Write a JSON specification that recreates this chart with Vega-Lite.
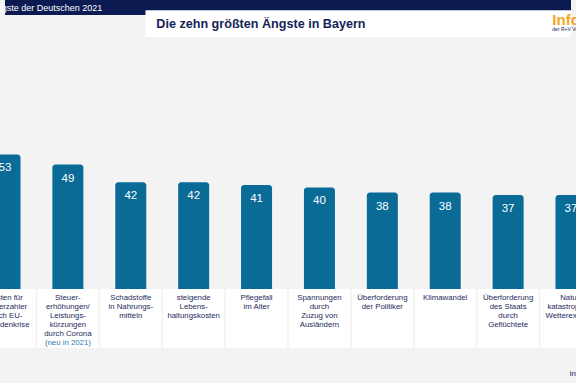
{
  "$schema": "https://vega.github.io/schema/vega-lite/v6.json",
  "width": 576,
  "height": 383,
  "autosize": {"type": "none"},
  "padding": 0,
  "background": "#f3f3f3",
  "config": {"view": {"stroke": null}, "font": "Liberation Sans"},
  "datasets": {
    "fears": [
      {"i": 1, "v": 53, "label": "Kosten für\nSteuerzahler\ndurch EU-\nSchuldenkrise", "note": null},
      {"i": 2, "v": 49, "label": "Steuer-\nerhöhungen/\nLeistungs-\nkürzungen\ndurch Corona", "note": "(neu in 2021)"},
      {"i": 3, "v": 42, "label": "Schadstoffe\nin Nahrungs-\nmitteln", "note": null},
      {"i": 4, "v": 42, "label": "steigende\nLebens-\nhaltungskosten", "note": null},
      {"i": 5, "v": 41, "label": "Pflegefall\nim Alter", "note": null},
      {"i": 6, "v": 40, "label": "Spannungen\ndurch\nZuzug von\nAusländern", "note": null},
      {"i": 7, "v": 38, "label": "Überforderung\nder Politiker", "note": null},
      {"i": 8, "v": 38, "label": "Klimawandel", "note": null},
      {"i": 9, "v": 37, "label": "Überforderung\ndes Staats\ndurch\nGeflüchtete", "note": null},
      {"i": 10, "v": 37, "label": "Natur-\nkatastrophen/\nWetterextreme", "note": null}
    ],
    "one": [{}]
  },
  "layer": [
    {
      "data": {"name": "one"},
      "mark": {"type": "rect", "color": "#0b1b52"},
      "encoding": {
        "x": {"datum": 1, "type": "quantitative", "scale": {"domain": [1, 10], "nice": false, "zero": false}, "axis": null},
        "x2": {"datum": 10},
        "y": {"datum": 113.8, "type": "quantitative", "scale": {"domain": [-37, 113.8], "nice": false, "zero": false}, "axis": null},
        "y2": {"datum": 107.9}
      }
    },
    {
      "data": {"name": "one"},
      "mark": {"type": "text", "text": "Die Ängste der Deutschen 2021", "align": "right", "baseline": "alphabetic", "fontSize": 9, "color": "#ffffff"},
      "encoding": {
        "x": {"datum": 2.547, "type": "quantitative", "scale": {"domain": [1, 10], "nice": false, "zero": false}, "axis": null},
        "y": {"datum": 109.4, "type": "quantitative", "scale": {"domain": [-37, 113.8], "nice": false, "zero": false}, "axis": null}
      }
    },
    {
      "data": {"name": "one"},
      "mark": {"type": "rect", "color": "#ffffff"},
      "encoding": {
        "x": {"datum": 3.234, "type": "quantitative", "scale": {"domain": [1, 10], "nice": false, "zero": false}, "axis": null},
        "x2": {"datum": 10},
        "y": {"datum": 109.8, "type": "quantitative", "scale": {"domain": [-37, 113.8], "nice": false, "zero": false}, "axis": null},
        "y2": {"datum": 99.2}
      }
    },
    {
      "data": {"name": "one"},
      "mark": {"type": "text", "text": "Die zehn größten Ängste in Bayern", "align": "left", "baseline": "alphabetic", "fontSize": 12.6, "fontWeight": "bold", "color": "#142358"},
      "encoding": {
        "x": {"datum": 3.406, "type": "quantitative", "scale": {"domain": [1, 10], "nice": false, "zero": false}, "axis": null},
        "y": {"datum": 102.6, "type": "quantitative", "scale": {"domain": [-37, 113.8], "nice": false, "zero": false}, "axis": null}
      }
    },
    {
      "data": {"name": "one"},
      "mark": {"type": "text", "text": "Infocenter", "align": "left", "baseline": "alphabetic", "fontSize": 15, "fontWeight": "bold", "color": "#f5a623"},
      "encoding": {
        "x": {"datum": 9.703, "type": "quantitative", "scale": {"domain": [1, 10], "nice": false, "zero": false}, "axis": null},
        "y": {"datum": 104.0, "type": "quantitative", "scale": {"domain": [-37, 113.8], "nice": false, "zero": false}, "axis": null}
      }
    },
    {
      "data": {"name": "one"},
      "mark": {"type": "text", "text": "der R+V Versicherung", "align": "left", "baseline": "alphabetic", "fontSize": 5, "color": "#142358"},
      "encoding": {
        "x": {"datum": 9.703, "type": "quantitative", "scale": {"domain": [1, 10], "nice": false, "zero": false}, "axis": null},
        "y": {"datum": 101.6, "type": "quantitative", "scale": {"domain": [-37, 113.8], "nice": false, "zero": false}, "axis": null}
      }
    },
    {
      "data": {"name": "fears"},
      "mark": {"type": "bar", "width": 61, "color": "#ffffff", "clip": true},
      "encoding": {
        "x": {"field": "i", "type": "quantitative", "scale": {"domain": [1, 10], "nice": false, "zero": false}, "axis": null},
        "y": {"datum": 0, "type": "quantitative", "scale": {"domain": [-37, 113.8], "nice": false, "zero": false}, "axis": null},
        "y2": {"datum": -23.2}
      }
    },
    {
      "data": {"name": "fears"},
      "mark": {"type": "bar", "width": 31, "color": "#0a6b97", "cornerRadiusTopLeft": 3, "cornerRadiusTopRight": 3, "clip": true},
      "encoding": {
        "x": {"field": "i", "type": "quantitative", "scale": {"domain": [1, 10], "nice": false, "zero": false}, "axis": null},
        "y": {"field": "v", "type": "quantitative", "scale": {"domain": [-37, 113.8], "nice": false, "zero": false}, "axis": null},
        "y2": {"datum": 0}
      }
    },
    {
      "data": {"name": "fears"},
      "mark": {"type": "text", "color": "#ffffff", "fontSize": 11.5, "baseline": "middle", "align": "center", "dy": 14, "clip": true},
      "encoding": {
        "x": {"field": "i", "type": "quantitative", "scale": {"domain": [1, 10], "nice": false, "zero": false}, "axis": null},
        "y": {"field": "v", "type": "quantitative", "scale": {"domain": [-37, 113.8], "nice": false, "zero": false}, "axis": null},
        "text": {"field": "v", "type": "quantitative"}
      }
    },
    {
      "data": {"name": "fears"},
      "mark": {"type": "text", "color": "#1d2a5a", "fontSize": 7.8, "lineHeight": 9, "lineBreak": "\n", "baseline": "top", "align": "center", "clip": true},
      "encoding": {
        "x": {"field": "i", "type": "quantitative", "scale": {"domain": [1, 10], "nice": false, "zero": false}, "axis": null},
        "y": {"datum": -1.8, "type": "quantitative", "scale": {"domain": [-37, 113.8], "nice": false, "zero": false}, "axis": null},
        "text": {"field": "label", "type": "nominal"}
      }
    },
    {
      "data": {"name": "fears"},
      "transform": [{"filter": "datum.note != null"}],
      "mark": {"type": "text", "color": "#2b7cb8", "fontSize": 7.8, "baseline": "top", "align": "center", "clip": true},
      "encoding": {
        "x": {"field": "i", "type": "quantitative", "scale": {"domain": [1, 10], "nice": false, "zero": false}, "axis": null},
        "y": {"datum": -19.5, "type": "quantitative", "scale": {"domain": [-37, 113.8], "nice": false, "zero": false}, "axis": null},
        "text": {"field": "note", "type": "nominal"}
      }
    },
    {
      "data": {"name": "one"},
      "mark": {"type": "text", "text": "infocenter.ruv.de", "align": "left", "baseline": "middle", "fontSize": 8, "color": "#1d2a5a"},
      "encoding": {
        "x": {"datum": 9.98, "type": "quantitative", "scale": {"domain": [1, 10], "nice": false, "zero": false}, "axis": null},
        "y": {"datum": -33.5, "type": "quantitative", "scale": {"domain": [-37, 113.8], "nice": false, "zero": false}, "axis": null}
      }
    }
  ]
}
